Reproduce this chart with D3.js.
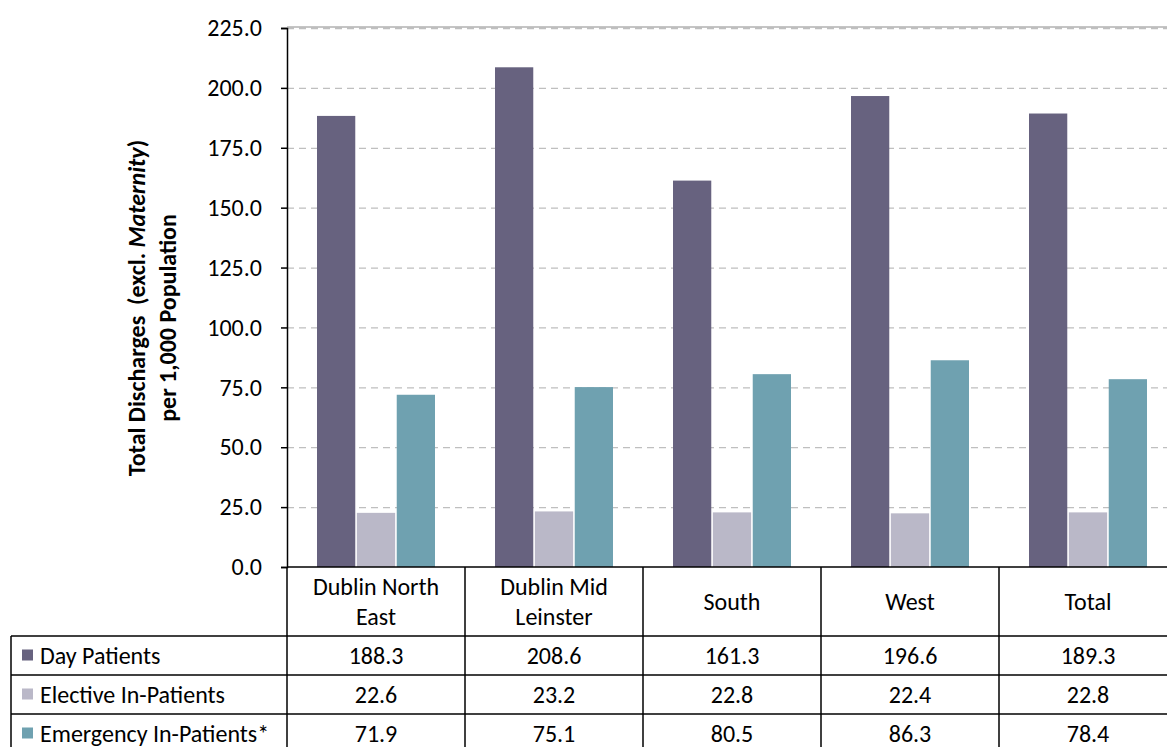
<!DOCTYPE html>
<html><head><meta charset="utf-8">
<script src="https://cdn.jsdelivr.net/npm/d3@7"></script>
<style>
html,body{margin:0;padding:0;background:#fff;overflow:hidden}
text{font-family:Carlito,Lato,"Open Sans",sans-serif;fill:#000;white-space:pre}
</style></head>
<body><svg id="c" width="1167" height="747"></svg>
<script>
const categories = [["Dublin North","East"],["Dublin Mid","Leinster"],["South"],["West"],["Total"]];
const seriesNames = ["Day Patients","Elective In-Patients","Emergency In-Patients*"];
const dayPatients = [188.3, 208.6, 161.3, 196.6, 189.3];
const electiveInPatients = [22.6, 23.2, 22.8, 22.4, 22.8];
const emergencyInPatients = [71.9, 75.1, 80.5, 86.3, 78.4];
const colors = ["#67627F","#BAB8C8","#6FA1B0"];
const yTicks = [0,25,50,75,100,125,150,175,200,225];

(function(){
const FS = 24;
const series = [dayPatients, electiveInPatients, emergencyInPatients];
const svg = d3.select("#c");
const pLeft = 287, pTop = 28, pBottom = 567, colW = 178;
const catKeys = categories.map((c,i)=>i);
const x0 = d3.scaleBand().domain(catKeys).range([pLeft, pLeft + colW*categories.length]).padding(0);
const x1 = d3.scaleBand().domain([0,1,2]).range([30, colW-30]).paddingInner(0.04);
const y = d3.scaleLinear().domain([0,225]).range([pBottom, pTop]);

svg.append("g").selectAll("line").data(yTicks.filter(t=>t>0)).join("line")
  .attr("x1", pLeft).attr("x2", 1167)
  .attr("y1", d=>y(d)+0.5).attr("y2", d=>y(d)+0.5)
  .attr("stroke", "#BFBFBF").attr("stroke-width", 1.3).attr("stroke-dasharray", "7,5");
svg.append("line").attr("x1", pLeft).attr("x2", 1167).attr("y1", pTop-1).attr("y2", pTop-1)
  .attr("stroke", "#8c8c8c").attr("stroke-width", 1.2);

const g = svg.append("g");
catKeys.forEach(ci=>{
  series.forEach((s,si)=>{
    g.append("rect")
      .attr("x", x0(ci) + x1(si))
      .attr("width", x1.bandwidth())
      .attr("y", y(s[ci]))
      .attr("height", y(0)-y(s[ci]))
      .attr("fill", colors[si]);
  });
});

const yAxis = d3.axisLeft(y).tickValues(yTicks).tickFormat(d3.format(".1f")).tickSize(6).tickPadding(19);
const ya = svg.append("g").attr("transform", `translate(${pLeft},0)`).call(yAxis);
ya.select(".domain").attr("stroke","#000").attr("stroke-width",1.5);
ya.selectAll(".tick line").attr("stroke","#000").attr("stroke-width",1.5);
ya.selectAll(".tick text").attr("font-size", FS).attr("font-family","Carlito,Lato,sans-serif").attr("fill","#000");

const yt = svg.append("text").attr("transform","translate(145,308) rotate(-90)")
  .attr("text-anchor","middle").attr("font-size",FS).attr("font-weight","bold");
yt.append("tspan").text("Total Discharges  (excl. ");
yt.append("tspan").attr("font-style","italic").text("Maternity");
yt.append("tspan").text(")");
svg.append("text").attr("transform","translate(176,318) rotate(-90)")
  .attr("text-anchor","middle").attr("font-size",FS).attr("font-weight","bold")
  .text("per 1,000 Population");

const rowY = [567, 636, 675, 714, 753];
const tbl = svg.append("g");
const lineAttr = sel => sel.attr("stroke","#000").attr("stroke-width",1.5);
catKeys.forEach(ci=>{
  lineAttr(tbl.append("line").attr("x1", x0(ci)).attr("x2", x0(ci)).attr("y1", rowY[0]).attr("y2", 747));
});
lineAttr(tbl.append("line").attr("x1", x0(4)+colW).attr("x2", x0(4)+colW).attr("y1", rowY[0]).attr("y2", 747));
lineAttr(tbl.append("line").attr("x1", pLeft).attr("x2", 1167).attr("y1", rowY[0]).attr("y2", rowY[0]));
[1,2,3].forEach(r=>{
  lineAttr(tbl.append("line").attr("x1", 11).attr("x2", 1167).attr("y1", rowY[r]).attr("y2", rowY[r]));
});
lineAttr(tbl.append("line").attr("x1", 11).attr("x2", 11).attr("y1", rowY[1]).attr("y2", 747));

catKeys.forEach(ci=>{
  const cx = x0(ci) + colW/2;
  const lines = categories[ci];
  const mid = (rowY[0]+rowY[1])/2;
  lines.forEach((t,li)=>{
    tbl.append("text").attr("x", cx).attr("y", mid + (li - (lines.length-1)/2)*30 + 8)
      .attr("text-anchor","middle").attr("font-size",FS).text(t);
  });
});
series.forEach((s,si)=>{
  const cy = (rowY[si+1]+rowY[si+2])/2;
  tbl.append("rect").attr("x",22).attr("y",cy-6).attr("width",11).attr("height",11)
    .attr("fill",colors[si]);
  tbl.append("text").attr("x",40).attr("y",cy+8).attr("font-size",FS).text(seriesNames[si]);
  s.forEach((v,ci)=>{
    tbl.append("text").attr("x", x0(ci)+colW/2).attr("y", cy+8).attr("text-anchor","middle")
      .attr("font-size",FS).text(d3.format(".1f")(v));
  });
});
})();
</script></body></html>
